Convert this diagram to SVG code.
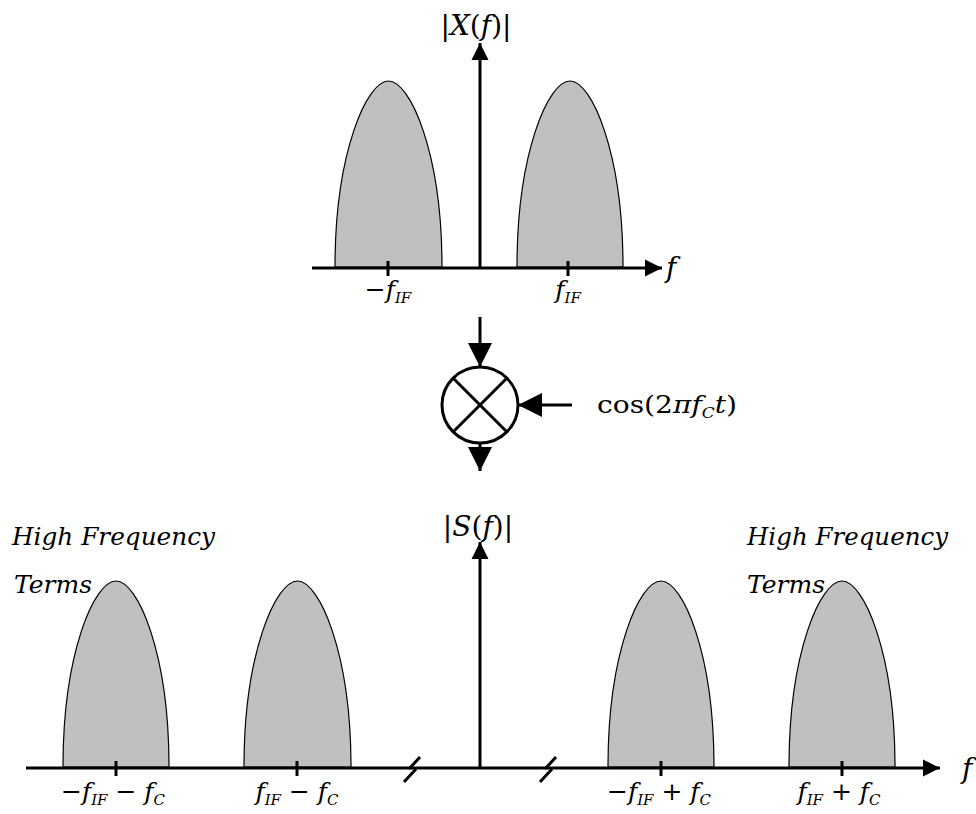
<svg xmlns="http://www.w3.org/2000/svg" width="976" height="814" viewBox="0 0 976 814">
<style>
.ax{stroke:#000;stroke-width:3;fill:none}
.tk{stroke:#000;stroke-width:3}
.lobe{fill:#c0c0c0;stroke:#000;stroke-width:1.2}
.m{font-family:'DejaVu Serif',serif;font-size:25px;fill:#000}
.big{font-size:28px}
.i{font-style:italic}
.sub{font-style:italic;font-size:15px}
.hf{font-family:'DejaVu Serif',serif;font-style:italic;font-size:24px;fill:#000}
</style>
<defs>
<marker id="ah" markerUnits="userSpaceOnUse" markerWidth="18" markerHeight="18" refX="17" refY="9" orient="auto" viewBox="0 0 18 18">
<path d="M0,0.5 L17,9 L0,17.5 Z" fill="#000"/>
</marker>
<marker id="ahb" markerUnits="userSpaceOnUse" markerWidth="26" markerHeight="26" refX="24" refY="12.5" orient="auto" viewBox="0 0 26 26">
<path d="M0,0.5 L24,12.5 L0,24.5 Z" fill="#000"/>
</marker>
</defs>

<g id="top-lobes">
<path class="lobe" d="M335,267 C335,152 367.1,81 388.5,81 C409.9,81 442,152 442,267 Z"/>
<path class="lobe" d="M517,267 C517,152 548.6,81 570,81 C591.4,81 623,152 623,267 Z"/>
</g>
<g id="bottom-lobes">
<path class="lobe" d="M63,767 C63,652 94.6,581 116,581 C137.4,581 169,652 169,767 Z"/>
<path class="lobe" d="M244,767 C244,652 276.1,581 297.5,581 C318.9,581 351,652 351,767 Z"/>
<path class="lobe" d="M608,767 C608,652 639.6,581 661,581 C682.4,581 714,652 714,767 Z"/>
<path class="lobe" d="M789,767 C789,652 820.6,581 842,581 C863.4,581 895,652 895,767 Z"/>
</g>

<g id="connectors">
<line class="ax" x1="312" y1="268" x2="662" y2="268" marker-end="url(#ah)"/>
<line class="ax" x1="480" y1="268" x2="480" y2="43" marker-end="url(#ah)"/>
<line class="tk" x1="388" y1="261" x2="388" y2="276"/>
<line class="tk" x1="568" y1="261" x2="568" y2="276"/>
<line class="ax" x1="480" y1="317" x2="480" y2="367" marker-end="url(#ahb)"/>
<line class="ax" x1="572" y1="405" x2="518" y2="405" marker-end="url(#ahb)"/>
<line class="ax" x1="480" y1="444" x2="480" y2="471" marker-end="url(#ahb)"/>
<line class="ax" x1="26" y1="768" x2="940" y2="768" marker-end="url(#ah)"/>
<line class="ax" x1="480" y1="768" x2="480" y2="542" marker-end="url(#ah)"/>
<line class="tk" x1="116" y1="761" x2="116" y2="776"/>
<line class="tk" x1="297" y1="761" x2="297" y2="776"/>
<line class="tk" x1="661" y1="761" x2="661" y2="776"/>
<line class="tk" x1="842" y1="761" x2="842" y2="776"/>
<line class="tk" x1="409" y1="769" x2="420" y2="757"/>
<line class="tk" x1="404" y1="782" x2="416" y2="769"/>
<line class="tk" x1="545" y1="769" x2="556" y2="757"/>
<line class="tk" x1="540" y1="782" x2="552" y2="769"/>
</g>

<g id="mixer">
<circle cx="480" cy="405" r="38" fill="#fff" stroke="#000" stroke-width="3"/>
<line class="tk" x1="453" y1="378" x2="507" y2="432"/>
<line class="tk" x1="507" y1="378" x2="453" y2="432"/>
</g>

<g id="labels">
<text class="m big" x="476" y="35" text-anchor="middle">|<tspan class="i">X</tspan>(<tspan class="i">f</tspan>)|</text>
<text class="m big i" x="666" y="277">f</text>
<text class="m" x="388" y="298" text-anchor="middle">−<tspan class="i">f</tspan><tspan class="sub" dy="5">IF</tspan></text>
<text class="m" x="568" y="298" text-anchor="middle"><tspan class="i">f</tspan><tspan class="sub" dy="5">IF</tspan></text>
<text class="m" x="597" y="413" font-size="27" textLength="140" lengthAdjust="spacingAndGlyphs">cos(2<tspan class="i">π</tspan><tspan class="i">f</tspan><tspan class="sub" dy="5">C</tspan><tspan class="i" dy="-5">t</tspan>)</text>
<text class="m big" x="478" y="536" text-anchor="middle">|<tspan class="i">S</tspan>(<tspan class="i">f</tspan>)|</text>
<text class="m big i" x="962" y="778">f</text>
<text class="hf" x="12" y="545" textLength="203" lengthAdjust="spacingAndGlyphs">High Frequency</text>
<text class="hf" x="14" y="593" textLength="78" lengthAdjust="spacingAndGlyphs">Terms</text>
<text class="hf" x="747" y="545" textLength="201" lengthAdjust="spacingAndGlyphs">High Frequency</text>
<text class="hf" x="747" y="593" textLength="78" lengthAdjust="spacingAndGlyphs">Terms</text>
<text class="m" x="113" y="800" text-anchor="middle">−<tspan class="i">f</tspan><tspan class="sub" dy="5">IF</tspan><tspan dy="-5"> − </tspan><tspan class="i">f</tspan><tspan class="sub" dy="5">C</tspan></text>
<text class="m" x="297" y="800" text-anchor="middle"><tspan class="i">f</tspan><tspan class="sub" dy="5">IF</tspan><tspan dy="-5"> − </tspan><tspan class="i">f</tspan><tspan class="sub" dy="5">C</tspan></text>
<text class="m" x="659" y="800" text-anchor="middle">−<tspan class="i">f</tspan><tspan class="sub" dy="5">IF</tspan><tspan dy="-5"> + </tspan><tspan class="i">f</tspan><tspan class="sub" dy="5">C</tspan></text>
<text class="m" x="839" y="800" text-anchor="middle"><tspan class="i">f</tspan><tspan class="sub" dy="5">IF</tspan><tspan dy="-5"> + </tspan><tspan class="i">f</tspan><tspan class="sub" dy="5">C</tspan></text>
</g>
</svg>
